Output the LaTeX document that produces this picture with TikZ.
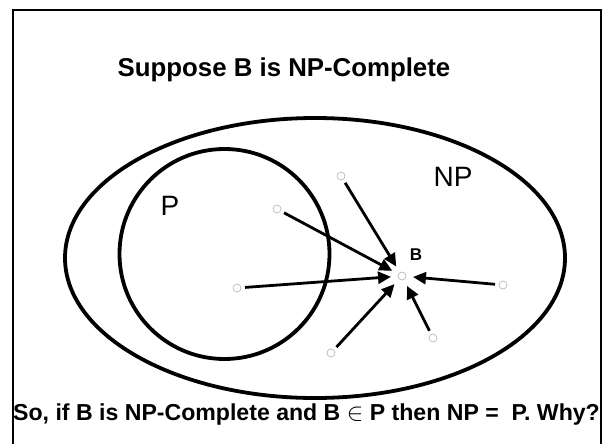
\documentclass[tikz,border=0pt]{standalone}
\usepackage{fontspec}
\setmainfont{Liberation Sans}
\usetikzlibrary{arrows.meta}

\begin{document}
\begin{tikzpicture}[
  x=1pt, y=-1pt,
  set/.style   = {line width=3.8pt},
  dot/.style   = {draw=black!28, line width=0.7pt, circle, inner sep=0pt,
                  minimum size=8pt, outer sep=0pt},
  red/.style   = {-{Triangle[length=13pt, width=12pt]}, line width=2.8pt,
                  shorten <=4pt, shorten >=7pt},
  setlbl/.style= {font=\fontsize{28}{30}\selectfont, inner sep=0pt},
  big/.style   = {font=\fontsize{25.8}{28}\selectfont\bfseries, inner sep=0pt, anchor=base},
  bot/.style   = {font=\fontsize{23.1}{26}\selectfont\bfseries, inner sep=0pt, anchor=base}
]
\useasboundingbox (0,0) rectangle (602,444);

% ------------------------------------------------------------------ cornice --
\draw[line width=2pt] (13,444) -- (13,10) -- (600.5,10) -- (600.5,444);
\node[big] (title) at (284,77) {Suppose B is NP-Complete};

% ---------------------------------------------------------------- insiemi --
\draw[set] (315,258) ellipse [x radius=250pt, y radius=140pt];
\draw[set] (224.5,254) circle [radius=105pt];
\node[setlbl] (lp)  at (170,206) {P};
\node[setlbl] (lnp) at (453,177) {NP};

% ------------------------------------------------------------------ punti --
\node[dot] (b)  at (402,276) {};
\node[font=\fontsize{17}{18}\selectfont\bfseries, inner sep=0pt] (lb) at (416,255) {B};
\node[dot] (p1) at (341,176) {};
\node[dot] (p2) at (277,209) {};
\node[dot] (p3) at (237,288) {};
\node[dot] (p4) at (503,285) {};
\node[dot] (p5) at (331,353) {};
\node[dot] (p6) at (433,338) {};

% ------------------------------------------------------------- riduzioni --
\draw[red] (p1) -- (b);
\draw[red] (p2) -- (b);
\draw[red] (p3) -- (b);
\draw[red] (p4) -- (b);
\draw[red] (p5) -- (b);
\draw[red] (p6) -- (b);

% ------------------------------------------------------------- domanda --
\node[bot] (q) at (306.5,420) {So, if B is NP-Complete and B $\in$ P then NP =\ \ P. Why?};

\end{tikzpicture}
\end{document}
